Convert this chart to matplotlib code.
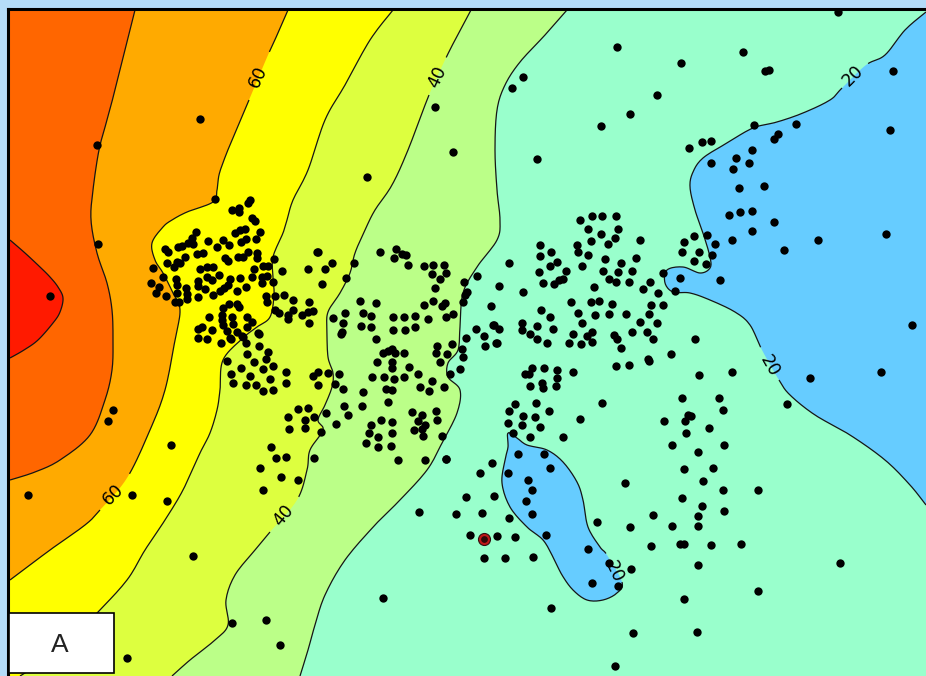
import matplotlib
matplotlib.use("Agg")
import matplotlib.pyplot as plt
from matplotlib.patches import Rectangle
import numpy as np

W, H = 926, 676
GAP = (np.nan, np.nan)

# contour lines in picture coordinates
level_80 = [(10,240),(25,253),(40,267),(50,277),(58,287),(63,298),(60,312),(53,323),(38,340),(24,350),(10,358)]
level_70 = [(135,10),(125,50),(115,90),(107,120),(99,150),(93,190),(91,220),(97,253),(107,283),(112,310),(113,340),
            (112,370),(105,400),(90,435),(60,460),(35,472),(10,480)]
level_60 = [(288,10),(278,33),(268,55),GAP,(249,100),(232,140),(224,160),(219,175),(217,190),(213,202),(187,212),(172,220),(163,227),
            (152,243),(155,260),(163,273),(173,293),(180,310),(175,340),(165,390),(150,430),(127,478),GAP,(100,510),
            (85,525),(50,550),(10,580)]
level_50 = [(393,10),(370,40),(345,85),(325,120),(308,170),(293,200),(287,220),(283,233),(273,257),(273,277),(274,295),
            (270,317),(257,327),(243,338),(223,360),(220,390),(217,410),(210,433),(200,453),(183,490),(165,520),
            (145,550),(127,580),(97,613),(60,650),(20,676)]
level_40 = [(471,10),(455,40),(445,60),GAP,(429,95),(408,150),(392,185),(375,210),(365,230),(355,253),(350,273),(340,293),
            (328,312),(327,330),(328,357),(333,373),(332,387),(325,405),(318,420),(323,430),(310,450),(307,470),(297,500),GAP,
            (270,532),(255,550),(235,575),(226,600),(228,625),(215,640),(190,660),(172,676)]
level_30 = [(567,10),(545,35),(520,62),(505,85),(497,110),(495,150),(497,190),(500,220),(497,240),(477,267),(463,293),
            (460,327),(458,350),(448,363),(448,377),(460,390),(457,413),(442,443),(427,470),(400,500),(375,525),
            (345,560),(325,595),(315,625),(308,650),(300,676)]
level_20_east = [(926,12),(905,30),(885,55),(866,65),GAP,(842,88),(830,100),(803,113),(777,122),(753,128),(727,143),(703,158),(693,172),
                 (690,187),(695,210),(703,233),(710,257),(710,268),(700,273),(683,267),(667,270),(665,283),(673,292),
                 (690,293),(710,300),(735,312),(750,325),(762,350),GAP,(779,380),(790,395),(815,415),(850,435),(885,460),
                 (910,485),(926,505)]
level_20_lake = [(508,433),(517,438),(527,445),(547,450),(563,462),(577,482),(583,500),(588,527),(600,547),(607,555),GAP,
                 (622,582),(617,593),(603,600),(587,600),(573,590),(562,575),(553,557),(543,540),(527,527),(510,507),
                 (502,483),(505,460),(508,447),(508,433)]

band_colors = ["#99ffcc", "#66ccff", "#bbff88", "#ddff3f", "#ffff00", "#ffaa00", "#ff6600", "#ff1a00"]

dots_west = [(215,199),(250,200),(248,203),(232,210),(239,208),(239,212),(252,218),(255,221),(196,232),(260,232),(245,229),
             (240,230),(235,233),(192,238),(188,243),(193,244),(208,241),(223,240),(256,239),(246,239),(241,242),(229,245),
             (217,247),(182,246),(178,247),(165,249),(168,252),(248,252),(203,253),(197,254),(257,253),(257,258),(238,257),
             (243,257),(185,257),(225,258),(228,261),(180,263),(177,262),(167,263),(174,267),(274,259),(213,267),(207,267),
             (200,269),(153,268),(263,266),(268,266),(254,269),(282,271),(308,269),(317,252),(163,277),(219,275),(252,277),
             (267,276),(262,277),(207,277),(240,278),(176,279),(230,279),(212,280),(198,281),(262,283),(273,282),(151,283),
             (228,285),(198,286),(177,285),(246,287),(159,287),(205,289),(224,288),(186,288),(237,291),(220,291),(177,293),
             (213,295),(156,293),(187,294),(266,296),(284,295),(275,296),(166,296),(198,297),(293,300),(187,299),(267,302),
             (175,302),(179,302),(309,302),(229,304),(237,304),(239,307),(223,308),(275,310),(293,310),(313,311),(308,312),
             (279,313),(302,315),(209,317),(222,315),(232,317),(247,317),(288,315),(288,319),(222,320),(252,322),(309,323),
             (202,327),(198,329),(233,324),(223,325),(247,327),(212,330),(227,331),(258,333),(237,332),(242,336),(198,338),
             (230,338),(207,339)]
dots_south_west = [(221,343),(231,339),(243,337),(246,343),(259,334),(259,346),(268,352),(247,354),(266,359),(227,361),(254,362),
                   (273,366),(241,368),(263,369),(286,372),(231,374),(250,376),(270,379),(233,383),(246,385),(256,385),(286,383),
                   (273,390),(263,391),(318,372),(313,376),(328,373),(339,374),(335,384),(318,385),(343,389),(363,392),(362,406),
                   (344,406),(348,415),(326,413),(336,424),(321,432),(314,458),(298,409),(308,408),(288,417),(314,417),(305,420),
                   (289,429),(305,428),(271,447),(286,457),(276,458),(260,468),(281,477),(298,480),(263,490)]
dots_centre = [(318,252),(332,263),(325,269),(354,263),(346,278),(322,284),(380,252),(396,249),(402,254),(406,255),(394,258),(408,265),
               (424,266),(433,265),(444,265),(432,274),(446,273),(440,279),(464,282),(477,276),(435,288),(467,292),(465,295),
               (433,301),(445,303),(442,306),(463,302),(424,305),(360,301),(376,303),(345,313),(363,313),(371,316),(333,318),
               (393,317),(404,317),(415,316),(428,319),(446,317),(453,314),(343,323),(361,326),(371,327),(393,330),(405,330),
               (415,327),(342,332),(341,334),(376,339),(383,353),(388,351),(392,349),(395,353),(404,353),(377,362),(392,362),
               (392,368),(409,367),(418,374),(372,377),(384,377),(394,379),(404,377),(386,389),(392,390),(420,387),(429,391),
               (432,381),(444,387),(388,402),(412,412),(422,415),(436,411),(437,420),(418,421),(425,425),(422,429),(414,430),
               (423,436),(442,436),(381,420),(392,422),(371,425),(369,433),(392,433),(378,437),(366,443),(378,447),(391,446),
               (398,460),(425,460),(446,459),(437,346),(452,344),(436,353),(447,354),(462,349),(463,357),(440,362),(460,369),
               (450,374),(466,338),(484,336),(485,346),(496,343),(476,329),(494,325),(499,329)]
dots_middle = [(580,220),(592,216),(602,216),(616,216),(588,229),(618,229),(601,234),(615,238),(591,241),(608,244),(640,240),(540,245),
               (577,245),(551,252),(578,252),(540,256),(588,255),(605,259),(636,258),(557,262),(550,266),(509,263),(621,263),
               (582,266),(603,271),(618,272),(632,271),(566,271),(539,272),(609,279),(616,282),(629,282),(563,279),(559,280),
               (554,284),(543,283),(650,282),(499,286),(594,287),(643,289),(523,292),(658,293),(571,302),(591,302),(599,301),
               (612,304),(651,305),(663,305),(491,306),(541,310),(578,313),(550,317),(595,315),(609,314),(626,314),(649,314),
               (640,322),(657,323),(582,323),(522,323),(537,326),(493,325),(522,330),(553,329),(530,334),(573,334),(592,332),
               (587,336),(614,335),(632,332),(647,332),(617,339),(537,339),(653,339),(695,339),(497,343),(547,343),(569,343),
               (581,344),(592,342),(621,348),(648,359),(671,354)]
dots_lake = [(532,368),(544,368),(557,370),(573,372),(525,374),(529,374),(557,378),(542,383),(530,386),(543,388),(556,386),(616,366),
             (629,365),(649,361),(699,375),(732,372),(515,404),(536,403),(602,403),(509,411),(549,411),(523,416),(535,417),
             (580,419),(508,423),(522,425),(540,427),(513,433),(530,437),(563,437),(518,454),(544,454),(550,468),(492,463),
             (480,473),(508,473),(528,480),(532,490),(494,496),(466,497),(526,501),(482,513),(456,514),(532,514),(509,518),
             (597,522),(630,527),(546,535),(470,535),(497,536),(515,537),(484,558),(505,558),(533,557),(588,549),(609,563),
             (631,569),(592,583),(618,586),(551,608),(684,599),(758,591),(698,565)]
dots_south_east = [(682,398),(719,398),(723,410),(688,415),(691,416),(664,421),(685,421),(709,428),(686,433),(672,445),(724,445),
                   (698,452),(684,469),(713,468),(703,481),(625,483),(723,490),(758,490),(682,498),(702,506),(724,511),(653,515),
                   (698,516),(672,526),(698,526),(651,546),(680,544),(684,544),(711,545),(741,544)]
dots_east = [(754,125),(796,124),(778,134),(774,139),(702,142),(711,141),(689,148),(752,150),(736,158),(749,163),(711,163),(733,169),
             (739,188),(764,186),(752,211),(740,212),(729,215),(774,222),(752,231),(818,240),(732,240),(715,244),(784,250),
             (707,235),(694,236),(684,242),(682,252),(699,252),(712,255),(694,261),(706,264),(663,273),(680,278),(720,280),
             (675,291)]
dots_scattered = [(838,12),(617,47),(743,52),(681,63),(765,71),(769,70),(893,71),(523,77),(512,88),(657,95),(435,107),(200,119),
                  (630,114),(601,126),(97,145),(453,152),(537,159),(367,177),(98,244),(50,296),(113,410),(108,421),(171,445),
                  (28,495),(132,495),(167,501),(193,556),(419,512),(383,598),(266,620),(232,623),(280,645),(127,658),(633,633),
                  (697,632),(615,666),(840,563),(912,325),(881,372),(810,378),(787,404),(890,130),(886,234),(446,459)]
selected_dot = (484, 539)

contour_labels = ["60", "60", "40", "40", "20", "20", "20"]
label_x = [258, 113, 437, 283, 853, 770, 614]
label_y = [77, 495, 77, 515, 76, 366, 572]
label_rot = [65, 45, 65, 50, 45, -60, -65]


def rounded(points, closed=False):
    # rounds the corners of a traced line; a gap stays open in the line but not in the fill
    pts = [p for p in points if not np.isnan(p[0])]
    gaps = set()
    k = 0
    for p in points:
        if np.isnan(p[0]):
            gaps.add(k - 1)
        else:
            k += 1
    pts = np.array(pts, dtype=float)
    n = len(pts)
    fill_xy, line_xy = [], []
    for i in range(n - 1):
        if closed:
            p0, p3 = pts[(i - 1) % (n - 1)], pts[(i + 2) % (n - 1)]
        else:
            p0, p3 = pts[max(i - 1, 0)], pts[min(i + 2, n - 1)]
        p1, p2 = pts[i], pts[i + 1]
        for t in np.linspace(0, 1, 10, endpoint=False):
            q = 0.5 * (2 * p1 + (p2 - p0) * t + (2 * p0 - 5 * p1 + 4 * p2 - p3) * t ** 2
                       + (3 * p1 - p0 - 3 * p2 + p3) * t ** 3)
            fill_xy.append(q)
            line_xy.append(q if i not in gaps else np.array([np.nan, np.nan]))
    fill_xy.append(pts[-1])
    line_xy.append(pts[-1])
    return np.array(fill_xy), np.array(line_xy)


def draw_level(ax, points, closing, color, closed=False):
    fill_xy, line_xy = rounded(points, closed)
    if closing:
        fill_xy = np.vstack([fill_xy, np.array(closing, dtype=float)])
    ax.fill(fill_xy[:, 0], fill_xy[:, 1], color=color, lw=0, zorder=1)
    return line_xy


fig = plt.figure(figsize=(W / 100, H / 100), dpi=100, facecolor="#b5dcf9")
ax = fig.add_axes([0, 0, 1, 1])
ax.set_xlim(0, W)
ax.set_ylim(H, 0)
ax.axis("off")

ax.add_patch(Rectangle((9, 9), W, H, fc=band_colors[0], ec="none", zorder=0))
left_edge = [(10, 676), (10, 10)]
lines = [draw_level(ax, level_20_east, [], band_colors[1]),
         draw_level(ax, level_20_lake, [], band_colors[1], closed=True),
         draw_level(ax, level_30, left_edge, band_colors[2]),
         draw_level(ax, level_40, left_edge, band_colors[3]),
         draw_level(ax, level_50, left_edge, band_colors[4]),
         draw_level(ax, level_60, [(10, 10)], band_colors[5]),
         draw_level(ax, level_70, [(10, 10)], band_colors[6]),
         draw_level(ax, level_80, [], band_colors[7])]

for xy in lines:
    ax.plot(xy[:, 0], xy[:, 1], color="#151515", lw=0.9, zorder=2, solid_capstyle="butt")

for s, x, y, r in zip(contour_labels, label_x, label_y, label_rot):
    ax.text(x, y, s, rotation=r, ha="center", va="center", fontsize=12.5, color="black",
            family="DejaVu Sans", zorder=3, rotation_mode="anchor")

all_dots = (dots_west + dots_south_west + dots_centre + dots_middle + dots_lake
            + dots_south_east + dots_east + dots_scattered)
ax.scatter([p[0] for p in all_dots], [p[1] for p in all_dots], s=36, color="black", lw=0, zorder=4)
ax.scatter([selected_dot[0]], [selected_dot[1]], s=75, color="#c01818", edgecolor="#301010", lw=0.8, zorder=5)
ax.scatter([selected_dot[0]], [selected_dot[1]], s=24, color="#300808", lw=0, zorder=6)

# outer frame
ax.plot([8, 8], [9, H], color="black", lw=2.2, zorder=7)
ax.plot([8, W], [9, 9], color="black", lw=2.2, zorder=7)

ax.add_patch(Rectangle((9, 613), 105, 60, fc="white", ec="black", lw=1.2, zorder=8))
ax.text(60, 645, "A", ha="center", va="center", fontsize=19, color="#222222", family="Liberation Sans", zorder=9)

fig.savefig("out.png", dpi=100, facecolor=fig.get_facecolor())
